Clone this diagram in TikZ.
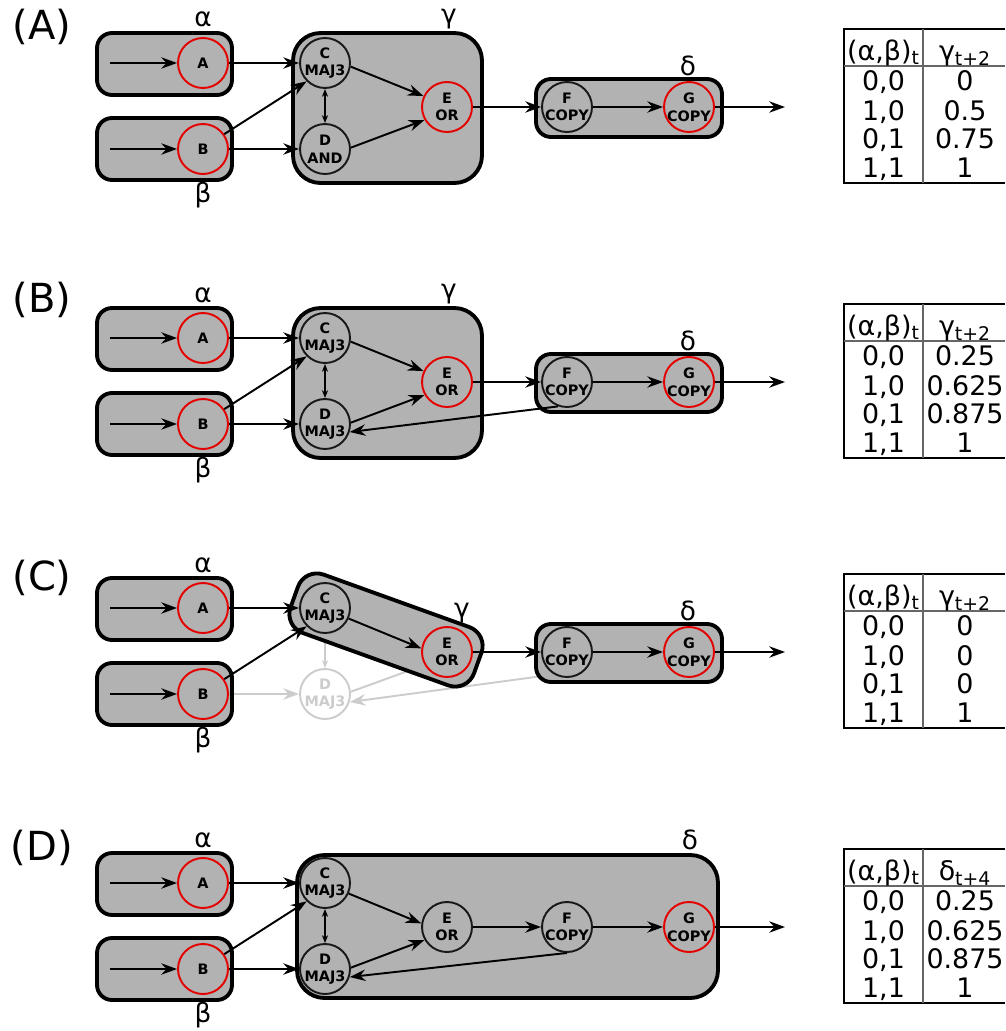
\documentclass[tikz,border=0pt]{standalone}
\usepackage{fontspec}
\setmainfont{DejaVu Sans}
\usetikzlibrary{arrows.meta}

\pgfdeclarelayer{faint}
\pgfdeclarelayer{boxes}
\pgfsetlayers{faint,boxes,main}

\tikzset{
  unit/.style={circle, draw=black!90, line width=1.1pt, minimum size=1cm, inner sep=-1.5pt,
    align=center, font=\fontsize{8.2}{10}\selectfont\bfseries},
  outunit/.style={unit, draw=red!90!black},
  ghost/.style={unit, draw=black!20, text=black!20},
  module/.style={draw, line width=2.2pt, fill=black!30, rounded corners=0.3cm, inner sep=0pt},
  bigmodule/.style={module, rounded corners=0.55cm},
  wire/.style={->, line width=1.1pt},
  ghostwire/.style={wire, draw=black!20},
  tie/.style={arrows={Stealth[length=4.5pt,width=3.5pt]-Stealth[length=4.5pt,width=3.5pt]}, line width=0.9pt},
  greek/.style={anchor=base, font=\fontsize{15}{18}\selectfont},
  tabtext/.style={anchor=base, inner sep=0pt, font=\fontsize{15.3}{18}\selectfont},
  panel/.style={font=\fontsize{22.8}{27}\selectfont},
}

\begin{document}
\begin{tikzpicture}[x=0.02cm, y=-0.02cm, >={Stealth[length=9pt, width=6.5pt, inset=3pt]}]
\useasboundingbox (0,0) rectangle (1005,1031);

% what every panel has: inputs, C, F, G and the table
\foreach \pn/\dy/\pl/\ly/\hd/\hn/\va/\vb/\vc/\vd in {
    1/0/A/27/γ/2/0/0.5/0.75/1,
    2/275/B/25/γ/2/0.25/0.625/0.875/1,
    3/545/C/33/γ/2/0/0/0/1,
    4/820/D/28/δ/4/0.25/0.625/0.875/1} {
  \begin{scope}[shift={(0,\dy)}]
    \node[panel] (lab\pn) at (42,\ly) {(\pl)};
    \begin{pgfonlayer}{boxes}
      \node[module, minimum width=2.7cm, minimum height=1.24cm] (alpha\pn) at (164.5,64) {};
      \node[module, minimum width=2.7cm, minimum height=1.24cm] (beta\pn) at (164.5,149) {};
    \end{pgfonlayer}
    \node[greek] (alab\pn) at (203,27) {α};
    \node[greek] (blab\pn) at (203,202) {β};
    \node[outunit] (a\pn) at (203,63) {A};
    \node[outunit] (b\pn) at (203,149) {B};
    \node[unit] (c\pn) at (325,63) {C\\MAJ3};
    \node[unit] (f\pn) at (567,107) {F\\COPY};
    \node[outunit] (g\pn) at (689,107) {G\\COPY};
    \coordinate (ina\pn) at (110,63);
    \coordinate (inb\pn) at (110,149);
    \coordinate (out\pn) at (785,107);
    \draw[wire] (ina\pn) -- (a\pn);
    \draw[wire] (inb\pn) -- (b\pn);
    \draw[wire] (a\pn) -- (c\pn);
    \draw[wire] (b\pn.35) -- (c\pn.225);
    \draw[wire] (f\pn) -- (g\pn);
    \draw[wire] (g\pn) -- (out\pn);
    % table
    \draw[line width=1.2pt] (1005,29) -- (844,29) -- (844,183) -- (1005,183);
    \draw[line width=0.6pt, black!60] (844,66) -- (1005,66) (923,29) -- (923,183);
    \node[tabtext] (hab\pn) at (883.5,60) {(α,β)\textsubscript{t}};
    \node[tabtext] (hout\pn) at (965,60) {\hd\textsubscript{t+\hn}};
    \node[tabtext] (r1\pn) at (883.5,90) {0,0};
    \node[tabtext] (r2\pn) at (883.5,120) {1,0};
    \node[tabtext] (r3\pn) at (883.5,148) {0,1};
    \node[tabtext] (r4\pn) at (883.5,177) {1,1};
    \node[tabtext] (v1\pn) at (965,90) {\va};
    \node[tabtext] (v2\pn) at (965,120) {\vb};
    \node[tabtext] (v3\pn) at (965,148) {\vc};
    \node[tabtext] (v4\pn) at (965,177) {\vd};
  \end{scope}
}

% (A)
\begin{scope}
  \begin{pgfonlayer}{boxes}
    \node[bigmodule, minimum width=3.78cm, minimum height=3cm] (gamma1) at (387.5,108) {};
    \node[module, minimum width=3.72cm, minimum height=1.16cm] (delta1) at (629,108) {};
  \end{pgfonlayer}
  \node[greek] (glab1) at (449,23) {γ};
  \node[greek] (dlab1) at (688,75) {δ};
  \node[unit] (d1) at (325,149) {D\\AND};
  \node[outunit] (e1) at (447,107) {E\\OR};
  \draw[wire] (b1) -- (d1);
  \draw[tie] (c1) -- (d1);
  \draw[wire] (c1.-8) -- (e1.155);
  \draw[wire] (d1.3) -- (e1.210);
  \draw[wire] (e1) -- (f1);
\end{scope}

% (B)
\begin{scope}[shift={(0,275)}]
  \begin{pgfonlayer}{boxes}
    \node[bigmodule, minimum width=3.78cm, minimum height=3cm] (gamma2) at (387.5,108) {};
    \node[module, minimum width=3.72cm, minimum height=1.16cm] (delta2) at (629,108) {};
  \end{pgfonlayer}
  \node[greek] (glab2) at (449,23) {γ};
  \node[greek] (dlab2) at (688,75) {δ};
  \node[unit] (d2) at (325,149) {D\\MAJ3};
  \node[outunit] (e2) at (447,107) {E\\OR};
  \draw[wire] (b2) -- (d2);
  \draw[tie] (c2) -- (d2);
  \draw[wire] (c2.-8) -- (e2.155);
  \draw[wire] (d2.3) -- (e2.210);
  \draw[wire] (e2) -- (f2);
  \draw[wire] (f2.250) -- (d2.-18);
\end{scope}

% (C)
\begin{scope}[shift={(0,545)}]
  \begin{pgfonlayer}{boxes}
    \node[module, rotate=-19.8, rounded corners=0.4cm, minimum width=3.9cm, minimum height=1.24cm] (gamma3) at (386,85) {};
    \node[module, minimum width=3.72cm, minimum height=1.16cm] (delta3) at (629,108) {};
  \end{pgfonlayer}
  \node[greek] (glab3) at (462,72) {γ};
  \node[greek] (dlab3) at (688,75) {δ};
  \node[ghost] (d3) at (325,149) {D\\MAJ3};
  \node[outunit] (e3) at (447,107) {E\\OR};
  \draw[wire] (c3.-24) -- (e3.172);
  \draw[wire] (e3) -- (f3);
  \begin{pgfonlayer}{faint}
    \draw[ghostwire] (b3) -- (d3);
    \draw[ghostwire, line width=0.9pt, >={Stealth[length=4.5pt,width=3.5pt]}] (c3) -- (d3);
    \draw[ghostwire] (d3.5) -- (e3.210);
    \draw[ghostwire] (f3.240) -- (d3.-18);
  \end{pgfonlayer}
\end{scope}

% (D)
\begin{scope}[shift={(0,820)}]
  \begin{pgfonlayer}{boxes}
    \node[bigmodule, minimum width=8.42cm, minimum height=2.86cm] (delta4) at (507.5,106.5) {};
  \end{pgfonlayer}
  \node[greek] (dlab4) at (690,29) {δ};
  \node[unit] (d4) at (325,149) {D\\MAJ3};
  \node[unit] (e4) at (447,107) {E\\OR};
  \draw[wire] (b4) -- (d4);
  \draw[tie] (c4) -- (d4);
  \draw[wire] (c4.-24) -- (e4.172);
  \draw[wire] (d4.3) -- (e4.210);
  \draw[wire] (e4) -- (f4);
  \draw[wire] (f4.south) -- (d4.-18);
\end{scope}
\end{tikzpicture}
\end{document}
